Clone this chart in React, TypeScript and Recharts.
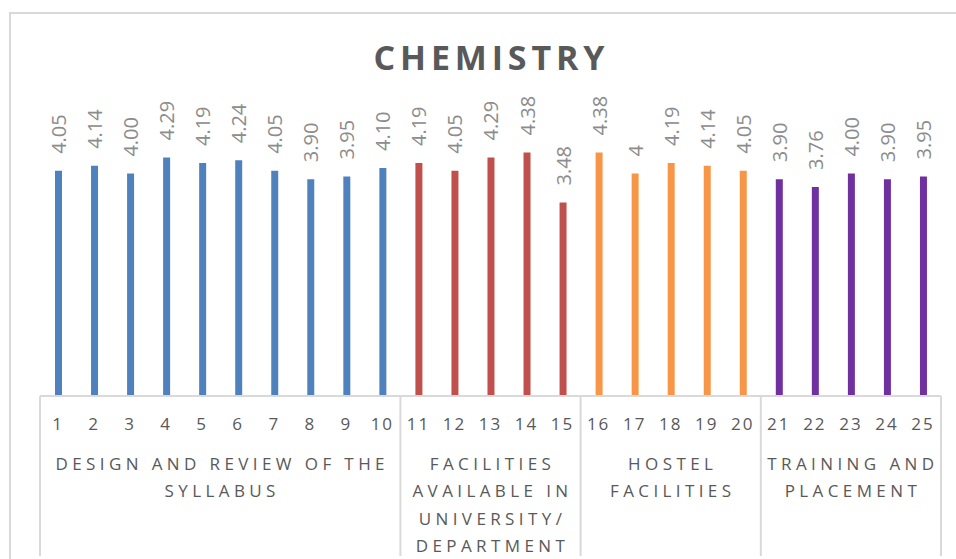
import React from 'react';
import { BarChart, Bar, XAxis, YAxis, Cell, LabelList } from 'recharts';

const categories = ['1','2','3','4','5','6','7','8','9','10','11','12','13','14','15','16','17','18','19','20','21','22','23','24','25'];
const values = [4.05, 4.14, 4.0, 4.29, 4.19, 4.24, 4.05, 3.9, 3.95, 4.1, 4.19, 4.05, 4.29, 4.38, 3.48, 4.38, 4, 4.19, 4.14, 4.05, 3.9, 3.76, 4.0, 3.9, 3.95];
const valueLabels = ['4.05','4.14','4.00','4.29','4.19','4.24','4.05','3.90','3.95','4.10','4.19','4.05','4.29','4.38','3.48','4.38','4','4.19','4.14','4.05','3.90','3.76','4.00','3.90','3.95'];
const groupNames = [
  ['DESIGN AND REVIEW OF THE', 'SYLLABUS'],
  ['FACILITIES', 'AVAILABLE IN', 'UNIVERSITY/', 'DEPARTMENT'],
  ['HOSTEL', 'FACILITIES'],
  ['TRAINING AND', 'PLACEMENT'],
];
const groupSizes = [10, 5, 5, 5];
const groupColors = ['#4F81BD', '#C0504D', '#F79646', '#7030A0'];
const title = 'CHEMISTRY';

const groupOf = (i: number) => {
  let acc = 0;
  for (let g = 0; g < groupSizes.length; g++) {
    acc += groupSizes[g];
    if (i < acc) return g;
  }
  return groupSizes.length - 1;
};
const groupStarts = groupSizes.map((_, g) => groupSizes.slice(0, g).reduce((a, b) => a + b, 0));

const data = categories.map((c, i) => ({ cat: c, value: values[i], label: valueLabels[i], group: groupOf(i) }));

const FONT = '"Open Sans", sans-serif';

const Tick = (props: any) => {
  const { x, y, payload, index } = props;
  const half = payload && payload.offset ? payload.offset : 18;
  const i = typeof index === 'number' ? index : payload.index;
  const left = x - half;
  const g = groupOf(i);
  const isStart = groupStarts[g] === i;
  const isLast = i === categories.length - 1;
  return (
    <g>
      <text x={x} y={y + 27} textAnchor="middle" dominantBaseline="central" fill="#595959" fontSize={17} fontFamily={FONT} letterSpacing={2}>
        {payload.value}
      </text>
      {isStart && (
        <line x1={left} x2={left} y1={y} y2={y + 160} stroke="#d9d9d9" strokeWidth={2} />
      )}
      {isLast && (
        <line x1={x + half} x2={x + half} y1={y} y2={y + 160} stroke="#d9d9d9" strokeWidth={2} />
      )}
      {isStart && groupNames[g].map((ln, k) => (
        <text key={k} x={left + groupSizes[g] * half + 2} y={y + 67 + k * 27.5} textAnchor="middle" dominantBaseline="central" fill="#595959" fontSize={17} fontFamily={FONT} letterSpacing={4.4}>
          {ln}
        </text>
      ))}
    </g>
  );
};

const ValueLabel = (props: any) => {
  const { x, y, width, index } = props;
  const cx = x + width / 2;
  const ty = y - 17;
  return (
    <text x={cx} y={ty} transform={`rotate(-90 ${cx} ${ty})`} textAnchor="start" dominantBaseline="central" fill="#8c8c8c" fontSize={20} fontFamily={FONT}>
      {valueLabels[index]}
    </text>
  );
};

export default function App() {
  return (
    <div style={{ position: 'fixed', left: 0, top: 0, width: 956, height: 559, overflow: 'hidden', background: '#fff' }}>
      <svg width={956} height={559} style={{ position: 'absolute', left: 0, top: 0 }}>
        <rect x={10} y={13} width={960} height={560} fill="none" stroke="#d9d9d9" strokeWidth={2} />
        <text x={489} y={70} textAnchor="middle" fill="#595959" fontSize={34} fontWeight="bold" fontFamily={FONT} textLength={231} lengthAdjust="spacing">
          {title}
        </text>
      </svg>
      <div style={{ position: 'absolute', left: 0, top: 0 }}>
        <BarChart width={956} height={559} data={data} margin={{ top: 118, right: 15, bottom: 133, left: 40 }} barCategoryGap={0}>
          <YAxis hide domain={[0, 5]} />
          <XAxis dataKey="cat" interval={0} tickLine={false} tickSize={0} tickMargin={0} axisLine={{ stroke: '#d9d9d9', strokeWidth: 2 }} tick={<Tick />} height={30} />
          <Bar dataKey="value" barSize={7} isAnimationActive={false}>
            {data.map((d, i) => (
              <Cell key={i} fill={groupColors[d.group]} />
            ))}
            <LabelList dataKey="label" content={<ValueLabel />} />
          </Bar>
        </BarChart>
      </div>
    </div>
  );
}
